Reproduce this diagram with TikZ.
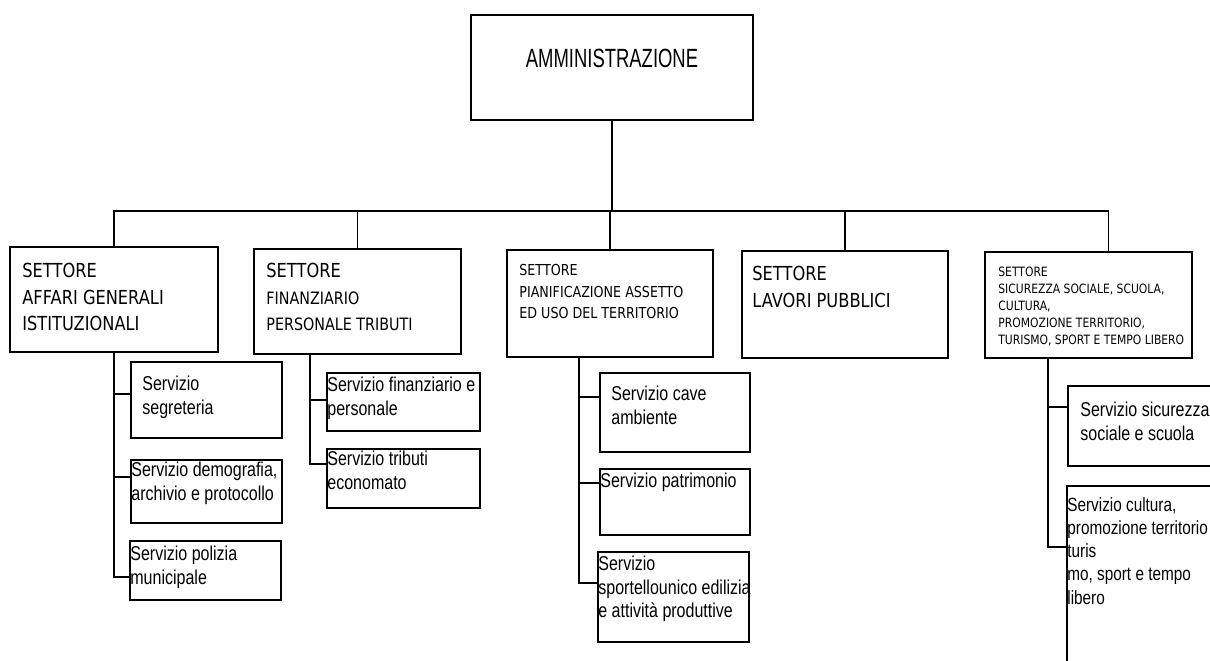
\documentclass[tikz,border=0pt]{standalone}
\usepackage{fontspec}
\setmainfont{Liberation Sans}
\newfontfamily\narrowfont{Liberation Sans}[FakeStretch=0.8]
\newfontfamily\headfont{Liberation Sans}[FakeStretch=0.7]
\newfontfamily\sectfont{DejaVu Sans}[FakeStretch=0.84]
\usetikzlibrary{positioning, calc, fit}

\begin{document}
\begin{tikzpicture}[
    x=0.02cm, y=-0.02cm,
    box/.style={rectangle, draw=black, line width=1.1pt, inner sep=0pt},
    conn/.style={draw=black, line width=1.1pt},
    sectxt/.style={anchor=north west, inner sep=0pt, align=left, font=\sectfont\fontsize{11}{15}\selectfont},
    sectsmall/.style={sectxt, font=\sectfont\fontsize{8.6}{12.3}\selectfont},
    secttiny/.style={sectxt, font=\sectfont\fontsize{7.3}{9.6}\selectfont},
    sertxt/.style={anchor=north west, inner sep=0pt, align=left, font=\narrowfont\fontsize{11.4}{13.2}\selectfont}
]
\useasboundingbox (0,0) rectangle (1210,660);
\clip (0,0) rectangle (1210,660);

% Amministrazione
\node[box, fit={(471,15) (753,120)}, font=\headfont\fontsize{15}{18}\selectfont] (adm) {AMMINISTRAZIONE};

% Settori
\node[box, fit={(10,247) (218,352)}] (s1) {};
\node[sectxt] at ($(s1.north west)+(13,17)$) (s1t) {SETTORE\\AFFARI GENERALI\\ISTITUZIONALI};

\node[box, fit={(254,249) (461,354)}] (s2) {};
\node[sectxt] at ($(s2.north west)+(13,15)$) (s2t) {SETTORE\\\fontsize{9.7}{15}\selectfont FINANZIARIO\\\fontsize{9.7}{15}\selectfont PERSONALE TRIBUTI};

\node[box, fit={(507,250) (713,357)}] (s3) {};
\node[sectsmall] at ($(s3.north west)+(13,15)$) (s3t) {SETTORE\\PIANIFICAZIONE ASSETTO\\ED USO DEL TERRITORIO};

\node[box, fit={(742,251) (948,358)}] (s4) {};
\node[sectxt] at ($(s4.north west)+(11,16)$) (s4t) {SETTORE\\LAVORI PUBBLICI};

\node[box, fit={(985,252) (1192,358)}] (s5) {};
\node[secttiny] at ($(s5.north west)+(14,16)$) (s5t) {SETTORE\\SICUREZZA SOCIALE, SCUOLA,\\CULTURA,\\PROMOZIONE TERRITORIO,\\TURISMO, SPORT E TEMPO LIBERO};

% Collegamenti amministrazione - settori
\coordinate (bus) at (612,211);
\coordinate (busR) at ($(s5.north)+(20,0)$);
\draw[conn] (adm.south) -- (adm.south |- bus);
\draw[conn] (s1.north) |- (bus) -| (busR);
\draw[conn] (s2.north) -- (s2.north |- bus);
\draw[conn] (s3.north) -- (s3.north |- bus);
\draw[conn] (s4.north) -- (s4.north |- bus);

% Servizi settore affari generali
\node[box, fit={(131,362) (282,438)}] (seg) {};
\node[sertxt] at ($(seg.north west)+(12,15)$) (segt) {Servizio\\segreteria};
\node[box, fit={(131,460) (282,523)}] (dem) {};
\node[sertxt] at ($(dem.north west)+(1,3)$) (demt) {Servizio demografia,\\archivio e protocollo};
\node[box, fit={(130,541) (281,600)}] (pol) {};
\node[sertxt] at ($(pol.north west)+(1,6)$) (polt) {Servizio polizia\\municipale};
\draw[conn] (s1.south) |- ($(seg.north west)+(0,33)$);
\draw[conn] (s1.south) |- ($(dem.north west)+(0,18)$);
\draw[conn] (s1.south) |- ($(pol.north west)+(0,37)$);

% Servizi settore finanziario
\node[box, fit={(327,373) (480,431)}] (fin) {};
\node[sertxt] at ($(fin.north west)+(1,5)$) (fint) {Servizio finanziario e\\personale};
\node[box, fit={(327,449) (480,508)}] (tri) {};
\node[sertxt] at ($(tri.north west)+(1,3)$) (trit) {Servizio tributi\\economato};
\coordinate (d2) at ($(s2.south west)+(57,0)$);
\draw[conn] (d2) |- ($(fin.north west)+(0,28)$);
\draw[conn] (d2) |- ($(tri.north west)+(0,16)$);

% Servizi settore pianificazione
\node[box, fit={(600,373) (750,452)}] (cav) {};
\node[sertxt] at ($(cav.north west)+(12,14)$) (cavt) {Servizio cave\\ambiente};
\node[box, fit={(600,469) (750,535)}] (pat) {};
\node[sertxt] at ($(pat.north west)+(1,5)$) (patt) {Servizio patrimonio};
\node[box, fit={(598,552) (749,642)}] (spo) {};
\node[sertxt] at ($(spo.north west)+(1,5)$) (spot) {Servizio\\sportellounico edilizia\\e attività produttive};
\coordinate (d3) at ($(s3.south west)+(73,0)$);
\draw[conn] (d3) |- ($(cav.north west)+(0,25)$);
\draw[conn] (d3) |- ($(pat.north west)+(0,15)$);
\draw[conn] (d3) |- ($(spo.north west)+(0,32)$);

% Servizi settore sicurezza sociale
\node[box, fit={(1068,386) (1225,466)}] (sic) {};
\node[sertxt] at ($(sic.north west)+(13,17)$) (sict) {Servizio sicurezza\\sociale e scuola};
\node[box, fit={(1067,486) (1225,690)}] (cul) {};
\node[sertxt, font=\narrowfont\fontsize{10.9}{13.2}\selectfont] at ($(cul.north west)+(1,12)$) (cult) {Servizio cultura,\\promozione territorio\\turis\\mo, sport e tempo\\libero};
\coordinate (d5) at ($(s5.south west)+(64,0)$);
\draw[conn] (d5) |- ($(sic.north west)+(0,22)$);
\draw[conn] (d5) |- ($(cul.north west)+(0,62)$);

\end{tikzpicture}
\end{document}
